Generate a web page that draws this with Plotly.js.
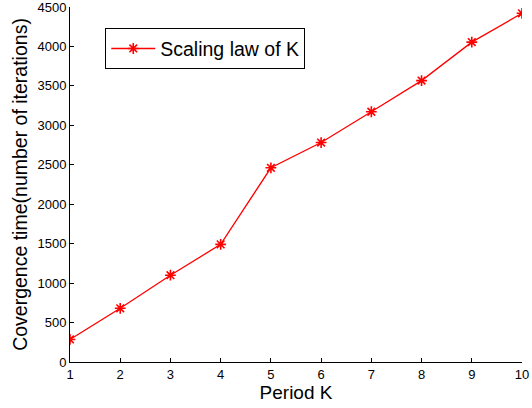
<!DOCTYPE html>
<html><head><meta charset="utf-8">
<script src="https://cdn.plot.ly/plotly-3.0.1.min.js"></script>
<style>html,body{margin:0;padding:0;background:#fff;}#c{width:532px;height:408px;}</style>
</head><body><div id="c"></div>
<script>
const periodK = [1, 2, 3, 4, 5, 6, 7, 8, 9, 10];
const convergenceTime = [286, 681, 1100, 1491, 2462, 2782, 3172, 3567, 4055, 4420];
const xTicks = [1, 2, 3, 4, 5, 6, 7, 8, 9, 10];
const yTicks = [0, 500, 1000, 1500, 2000, 2500, 3000, 3500, 4000, 4500];
const seriesName = "Scaling law of K";

const trace = {
  x: periodK, y: convergenceTime, name: seriesName,
  type: "scatter", mode: "lines+markers",
  line: {color: "#ff0000", width: 1.3},
  marker: {symbol: "asterisk-open", size: 9, color: "#ff0000", line: {color: "#ff0000", width: 1.6}}
};
const layout = {
  width: 532, height: 408,
  margin: {l: 70, r: 10, t: 7, b: 46},
  paper_bgcolor: "#fff", plot_bgcolor: "#fff",
  font: {family: "Liberation Sans, Arial, sans-serif", color: "#000", size: 13},
  showlegend: true,
  legend: {x: 0.078, y: 0.94, xanchor: "left", yanchor: "top", bordercolor: "#000", borderwidth: 1,
           bgcolor: "#fff", font: {size: 19.5}, itemwidth: 44},
  xaxis: {range: [1, 10], tickvals: xTicks, ticktext: xTicks.map(String), ticks: "inside", ticklen: 4,
          tickcolor: "#000", showline: true, linecolor: "#000", linewidth: 1, showgrid: false, zeroline: false,
          ticklabeloverflow: "allow",
          title: {text: "Period K", font: {size: 19}, standoff: 3}},
  yaxis: {range: [0, 4500], tickvals: yTicks, ticktext: yTicks.map(String), ticks: "inside", ticklen: 4,
          tickcolor: "#000", showline: true, linecolor: "#000", linewidth: 1, showgrid: false, zeroline: false,
          ticklabeloverflow: "allow",
          title: {text: "Covergence time(number of iterations)", font: {size: 19.5}, standoff: 4}}
};
Plotly.newPlot("c", [trace], layout, {displayModeBar: false, staticPlot: true});
</script></body></html>
